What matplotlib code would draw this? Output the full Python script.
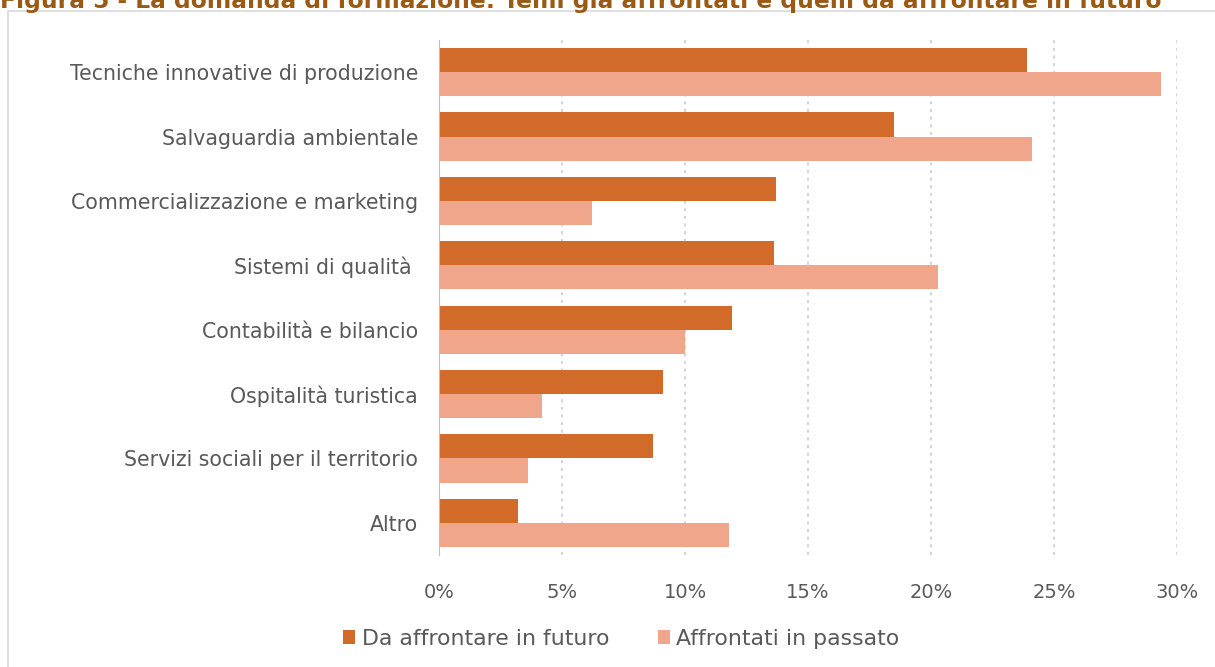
import numpy as np
import matplotlib
matplotlib.use('Agg')
import matplotlib.pyplot as plt
from matplotlib.patches import Rectangle
from matplotlib.ticker import PercentFormatter

categories = ['Tecniche innovative di produzione', 'Salvaguardia ambientale',
              'Commercializzazione e marketing', 'Sistemi di qualità ',
              'Contabilità e bilancio', 'Ospitalità turistica',
              'Servizi sociali per il territorio', 'Altro']
futuro = [23.9, 18.5, 13.7, 13.6, 11.9, 9.1, 8.7, 3.2]
passato = [29.35, 24.1, 6.2, 20.3, 10.0, 4.2, 3.6, 11.8]
series_labels = ['Da affrontare in futuro', 'Affrontati in passato']
title = 'Figura 5 - La domanda di formazione: Temi già affrontati e quelli da affrontare in futuro'

c_dark = '#D26A2A'
c_light = '#F0A68B'
txt = '#595959'

plt.rcParams['font.family'] = ['DejaVu Sans']

fig = plt.figure(figsize=(12.15, 6.67), dpi=100)
ax = fig.add_axes([439 / 1215, 1 - 555 / 667, (1177 - 439) / 1215, (555 - 40) / 667])

# chart frame and caption (cut off at the top, as in the source page)
fig.patches.append(Rectangle((8 / 1215, -0.01), 1.0, 1 - 11 / 667 + 0.01,
                             transform=fig.transFigure, fill=False,
                             edgecolor='#d9d9d9', linewidth=1.2))
fig.text(0.0, 1 - 1 / 667, title, fontsize=16.8, fontweight='bold',
         color='#9A5A14', ha='left', va='center')

y = np.arange(len(categories))
h = 0.375
ax.barh(y - h / 2, futuro, height=h, color=c_dark, label=series_labels[0])
ax.barh(y + h / 2, passato, height=h, color=c_light, label=series_labels[1])

ax.set_xlim(0, 30)
ax.set_ylim(len(categories) - 0.5, -0.5)
ax.set_xticks(np.arange(0, 31, 5))
ax.xaxis.set_major_formatter(PercentFormatter(decimals=0))
ax.set_yticks(y)
ax.set_yticklabels(categories)
ax.tick_params(axis='both', length=0, labelsize=14, colors=txt)
ax.tick_params(axis='y', labelsize=14.8, pad=15)
ax.tick_params(axis='x', pad=20)
ax.grid(axis='x', linestyle=(0, (2, 3)), color='#c8c8c8', linewidth=1.1)
ax.set_axisbelow(True)
for s in ['top', 'right', 'bottom']:
    ax.spines[s].set_visible(False)
ax.spines['left'].set_color('#bfbfbf')

ax.legend(loc='upper center', bbox_to_anchor=(0.247, -0.105), ncol=2,
          frameon=False, fontsize=15.8, labelcolor=txt, handlelength=0.55,
          handleheight=0.55, handletextpad=0.3, columnspacing=2.2)

fig.savefig('out.png', dpi=100)
